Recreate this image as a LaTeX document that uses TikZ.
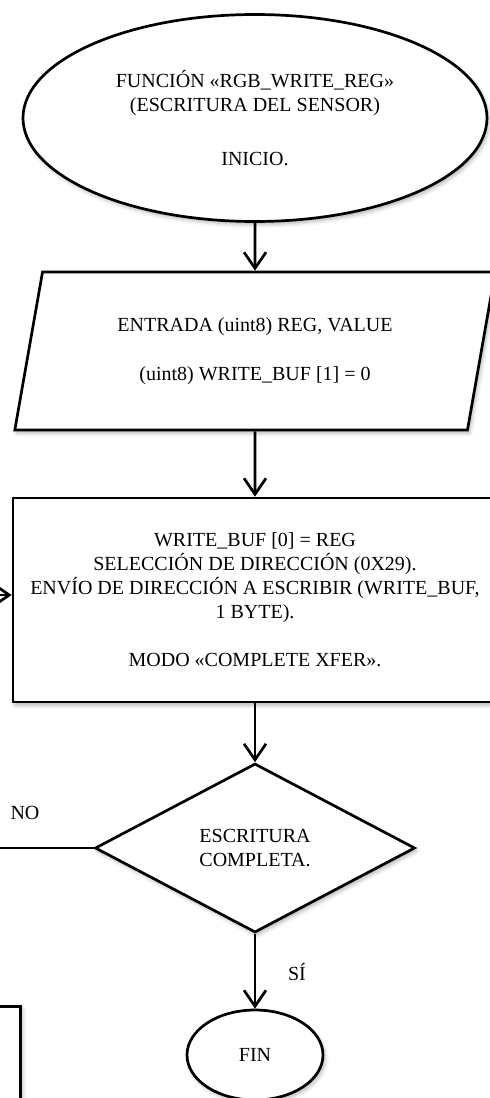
\documentclass[tikz,border=0pt]{standalone}
\usepackage{fontspec}
\setmainfont{Liberation Serif}
\usetikzlibrary{shapes.geometric,arrows.meta,shadows.blur}

\begin{document}
\begin{tikzpicture}[x=1pt,y=-1pt,
  shapeline/.style={draw=black, line width=2.7pt, fill=white,
    blur shadow={shadow xshift=2pt,shadow yshift=-3pt,shadow opacity=30,shadow blur radius=4pt}},
  txt/.style={font=\fontsize{20}{24}\selectfont, align=center, text=black},
  arr/.style={line width=2.7pt, -{Straight Barb[length=16pt,width=22pt,line width=2.7pt]}},
  conn/.style={line width=2.7pt},
  lbl/.style={font=\fontsize{20}{24}\selectfont, inner sep=0pt}
]
\useasboundingbox (0,0) rectangle (490,1098);
\clip (0,0) rectangle (490,1098);

\node[shapeline, txt, ellipse, minimum width=464pt, minimum height=207pt] (start) at (255,118)
  {FUNCIÓN «RGB\_WRITE\_REG»\\(ESCRITURA DEL SENSOR)\\[30pt]INICIO.};

\node[shapeline, txt, trapezium, trapezium left angle=76, trapezium right angle=104,
  trapezium stretches=true, minimum width=482pt, minimum height=158pt] (in) at (255,351)
  {ENTRADA (uint8) REG, VALUE\\[25pt](uint8) WRITE\_BUF [1] = 0};

\node[shapeline, txt, rectangle, minimum width=484pt, minimum height=204pt] (proc) at (255,600)
  {WRITE\_BUF [0] = REG\\SELECCIÓN DE DIRECCIÓN (0X29).\\ENVÍO DE DIRECCIÓN A ESCRIBIR (WRITE\_BUF,\\1 BYTE).\\[24pt]MODO «COMPLETE XFER».};

\node[shapeline, txt, diamond, minimum width=320pt, minimum height=169pt] (dec) at (255,848)
  {ESCRITURA\\COMPLETA.};

\node[shapeline, txt, ellipse, minimum width=136pt, minimum height=90pt] (fin) at (255,1055) {FIN};

\node[shapeline, rectangle, minimum width=60pt, minimum height=150pt, anchor=north east] (side) at (22,1005) {};

\coordinate (loopin) at (-5,595);
\coordinate (noend) at (-5,848);

\draw[arr] (start.south) -- (in.north);
\draw[arr] (in.south) -- (proc.north);
\draw[arr] (proc.south) -- (dec.north);
\draw[arr] (dec.south) -- (fin.north);
\draw[arr] (loopin) -- (loopin -| proc.west);
\draw[conn] (dec.west) -- (noend);

\node[lbl] (no) at (25,813) {NO};
\node[lbl] (si) at (297,972) {SÍ};
\end{tikzpicture}
\end{document}
